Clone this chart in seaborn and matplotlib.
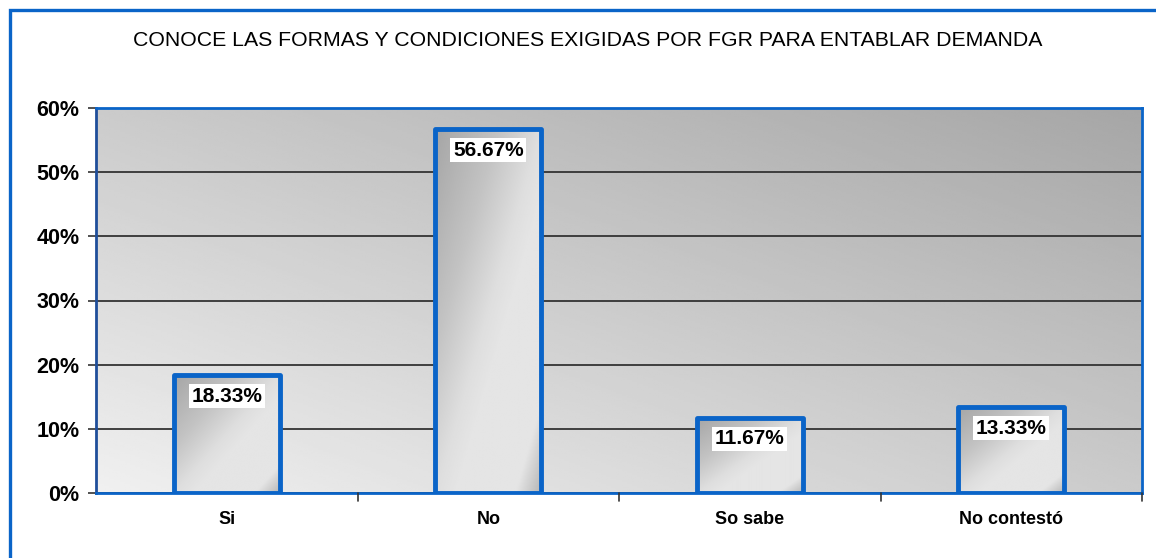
import numpy as np
import pandas as pd
import seaborn as sns
import matplotlib
matplotlib.use("Agg")
import matplotlib.pyplot as plt
from matplotlib.patches import Rectangle
from matplotlib.ticker import FuncFormatter

categories = ["Si", "No", "So sabe", "No contestó"]
values = [0.1833, 0.5667, 0.1167, 0.1333]
value_labels = ["18.33%", "56.67%", "11.67%", "13.33%"]
title = "CONOCE LAS FORMAS Y CONDICIONES EXIGIDAS POR FGR PARA ENTABLAR DEMANDA"

sns.set_theme(style="white")
plt.rcParams["font.family"] = ["Liberation Sans", "DejaVu Sans"]
plt.rcParams["text.color"] = "black"
plt.rcParams["xtick.color"] = "black"
plt.rcParams["ytick.color"] = "black"

W, H, DPI = 1156, 558, 100
fig = plt.figure(figsize=(W / DPI, H / DPI), dpi=DPI)
fig.patch.set_facecolor("white")
ax = fig.add_axes([96 / W, 1 - 493 / H, (1142 - 96) / W, (493 - 108) / H])

blue = "#0a64c8"
df = pd.DataFrame({"cat": categories, "val": values})
sns.barplot(data=df, x="cat", y="val", ax=ax, width=0.405, color="#d0d0d0",
            edgecolor=blue, linewidth=3.5, zorder=3)

# background gradient: light bottom-left, dark top-right
gx, gy = np.meshgrid(np.linspace(0, 1, 200), np.linspace(0, 1, 200))
bg = (240 - 37 * gx - 37 * gy) / 255.0
ax.imshow(bg, extent=[0, 1, 0, 1], transform=ax.transAxes, origin="lower",
          cmap="gray", vmin=0, vmax=1, aspect="auto", zorder=0.1, interpolation="bilinear")

ax.set_ylim(0, 0.6)
ax.set_xlim(-0.5, len(categories) - 0.5)
ax.set_autoscale_on(False)

# bar gradients: diagonal, top-left dark -> light -> bottom-right slightly dark
for p in ax.patches:
    x0, y0 = p.get_x(), p.get_y()
    w, h = p.get_width(), p.get_height()
    u, vb = np.meshgrid(np.linspace(0, 1, 200), np.linspace(0, 1, 300))
    vtop = 1 - vb
    t = (u + vtop) / 2
    val = np.interp(t, [0, 0.3, 0.5, 0.6, 0.88, 1.0], [165, 195, 222, 229, 229, 182]) / 255.0
    im = ax.imshow(val, extent=[x0, x0 + w, y0, y0 + h], origin="lower", cmap="gray",
                   vmin=0, vmax=1, aspect="auto", zorder=2.5, interpolation="bilinear")
    im.set_clip_path(p)
    p.set_facecolor("none")
    p.set_joinstyle("round")
    p.set_zorder(3)

# grid
ax.set_yticks(np.arange(0, 0.61, 0.1))
ax.yaxis.set_major_formatter(FuncFormatter(lambda v, _: f"{v*100:.0f}%"))
ax.grid(axis="y", color="#333333", linewidth=1.3, zorder=0.5)
ax.set_axisbelow(True)

for s in ax.spines.values():
    s.set_visible(True)
    s.set_color(blue)
    s.set_linewidth(2.0)
ax.spines["left"].set_color("#1f4e9a")

ax.tick_params(axis="y", which="both", left=True, length=6, width=1.2, color="#333333",
               labelsize=15.5, pad=6, labelcolor="black")
for lab in ax.get_yticklabels():
    lab.set_fontweight("bold")

ax.set_xticks(range(len(categories)))
ax.set_xticklabels(categories, fontsize=13, fontweight="bold", color="black")
ax.tick_params(axis="x", length=0, pad=13)
for b in np.arange(0.5, len(categories), 1.0):
    ax.plot([b, b], [0, -0.012], color="#333333", lw=1.2, clip_on=False, zorder=5,
            transform=ax.transData)
ax.set_xlabel("")
ax.set_ylabel("")

for i, (v, lab) in enumerate(zip(values, value_labels)):
    ax.annotate(lab, (i, v), xytext=(0, -15), textcoords="offset points",
                ha="center", va="center", fontsize=15, fontweight="bold", color="black",
                bbox=dict(boxstyle="square,pad=0.12", fc="white", ec="none"), zorder=6)

fig.text(588 / W, 1 - 40 / H, title, ha="center", va="center", fontsize=15.3, color="black")

fig.patches.append(Rectangle((10 / W, -0.1), 1.2, (H - 10) / H + 0.1, transform=fig.transFigure,
                             fill=False, edgecolor=blue, linewidth=2.4, clip_on=False))

fig.savefig("out.png", dpi=DPI)
